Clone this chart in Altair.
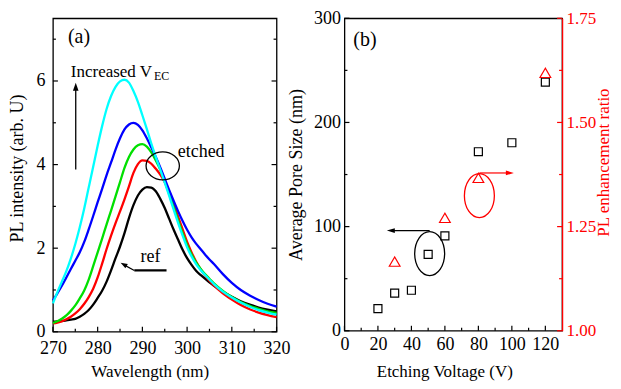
import altair as alt
import pandas as pd

FONT = "Liberation Serif"

# ---------------- panel (a): PL spectra ----------------
wavelength = [270, 271, 272, 273, 274, 275, 276, 277, 278, 279, 280, 281, 282, 283, 284,
              285, 286, 287, 288, 289, 290, 291, 292, 293, 294, 295, 296, 297, 298, 299,
              300, 301, 302, 303, 304, 305, 306, 308, 310, 312, 314, 316, 318, 320]

pl_ref = [0.24, 0.25, 0.26, 0.27, 0.29, 0.31, 0.36, 0.43, 0.52, 0.65, 0.81, 0.98, 1.20, 1.47, 1.76,
          2.04, 2.36, 2.72, 3.03, 3.26, 3.40, 3.46, 3.45, 3.36, 3.18, 2.96, 2.70, 2.44, 2.20, 1.96,
          1.76, 1.60, 1.46, 1.36, 1.27, 1.18, 1.10, 0.96, 0.84, 0.73, 0.65, 0.58, 0.53, 0.49]
pl_red = [0.20, 0.22, 0.25, 0.30, 0.36, 0.44, 0.54, 0.67, 0.83, 1.03, 1.30, 1.63, 1.98, 2.30, 2.60,
          2.88, 3.17, 3.48, 3.80, 4.01, 4.10, 4.09, 4.02, 3.90, 3.76, 3.58, 3.33, 3.05, 2.75, 2.45,
          2.15, 1.90, 1.68, 1.50, 1.35, 1.22, 1.11, 0.92, 0.77, 0.64, 0.54, 0.46, 0.40, 0.35]
pl_green = [0.21, 0.25, 0.31, 0.39, 0.50, 0.63, 0.80, 0.99, 1.25, 1.57, 1.90, 2.23, 2.57, 2.90, 3.24,
            3.58, 3.92, 4.18, 4.36, 4.46, 4.49, 4.43, 4.29, 4.10, 3.88, 3.60, 3.30, 2.98, 2.66, 2.36,
            2.08, 1.85, 1.66, 1.51, 1.38, 1.27, 1.16, 0.98, 0.83, 0.71, 0.62, 0.55, 0.49, 0.45]
pl_blue = [0.75, 0.92, 1.10, 1.30, 1.50, 1.70, 1.90, 2.15, 2.45, 2.77, 3.10, 3.42, 3.75, 4.05, 4.36,
           4.63, 4.84, 4.96, 5.00, 4.95, 4.82, 4.63, 4.41, 4.18, 3.93, 3.66, 3.39, 3.13, 2.88, 2.65,
           2.44, 2.26, 2.11, 1.98, 1.85, 1.73, 1.62, 1.38, 1.17, 1.00, 0.87, 0.76, 0.67, 0.60]
pl_cyan = [0.68, 0.95, 1.20, 1.45, 1.75, 2.10, 2.50, 2.95, 3.45, 3.95, 4.45, 4.92, 5.33, 5.64, 5.86,
           5.99, 6.03, 5.96, 5.76, 5.50, 5.18, 4.85, 4.50, 4.18, 3.88, 3.57, 3.25, 2.92, 2.60, 2.30,
           2.02, 1.80, 1.62, 1.48, 1.36, 1.25, 1.14, 0.96, 0.82, 0.70, 0.60, 0.52, 0.46, 0.41]

series_names = ["ref", "etched 1", "etched 2", "etched 3", "etched 4"]
series_colors = ["#000000", "#FF0000", "#00E000", "#0000FF", "#00FFFF"]
series_values = [pl_ref, pl_red, pl_green, pl_blue, pl_cyan]

# ---------------- panel (b): pore size & PL ratio ----------------
pore_voltage = [20, 30, 40, 50, 60, 80, 100, 120]
pore_size = [21.3, 36.1, 38.9, 73.4, 91.1, 171.9, 180.5, 238.7]
ratio_voltage = [30, 60, 80, 120]
ratio_value = [1.166, 1.271, 1.367, 1.619]

# axis tick values
a_x_major = [270, 280, 290, 300, 310, 320]
a_x_minor = [275, 285, 295, 305, 315]
a_y_major = [0, 2, 4, 6]
a_y_minor = [1, 3, 5, 7]
b_x_major = [0, 20, 40, 60, 80, 100, 120]
b_x_minor = [10, 30, 50, 70, 90, 110]
b_y_major = [0, 100, 200, 300]
b_y_minor = [50, 150, 250]
b_r_major = [1.0, 1.25, 1.5, 1.75]

rows = []
for name, vals in zip(series_names, series_values):
    for w, v in zip(wavelength, vals):
        rows.append({"wl": w, "I": v, "s": name})
df_a = pd.DataFrame(rows)

W_A, H_A = 224, 314
W_B, H_B = 218, 313
MAJ, MIN = 5, 3

xa_axis = alt.Axis(values=a_x_major, title="Wavelength (nm)", labelPadding=8, titlePadding=6,
                   titleFontSize=17, titleX=97)
ya_axis = alt.Axis(values=a_y_major, title="PL intensity (arb. U)", labelPadding=8, titlePadding=9,
                   titleY=150)
X_A = alt.X("wl:Q", scale=alt.Scale(domain=[270, 320], nice=False, zero=False), axis=xa_axis)
Y_A = alt.Y("I:Q", scale=alt.Scale(domain=[0, 7.5], nice=False, zero=False), axis=ya_axis)

lines = alt.Chart(df_a).mark_line(strokeWidth=2.3, interpolate="monotone").encode(
    x=X_A, y=Y_A,
    color=alt.Color("s:N", scale=alt.Scale(domain=series_names, range=series_colors), legend=None),
)


def xticks_a(vals, length):
    return alt.Chart(pd.DataFrame({"wl": vals})).mark_rule(color="black", strokeWidth=1.2).encode(
        x=X_A, y=alt.value(H_A), y2=alt.value(H_A - length))


def yticks_a(vals, length, right=False):
    x0 = W_A if right else 0
    x1 = W_A - length if right else length
    return alt.Chart(pd.DataFrame({"I": vals})).mark_rule(color="black", strokeWidth=1.2).encode(
        y=Y_A, x=alt.value(x0), x2=alt.value(x1))


ELLIPSE_A = "M1,0C1,0.464 0.552,0.84 0,0.84C-0.552,0.84 -1,0.464 -1,0C-1,-0.464 -0.552,-0.84 0,-0.84C0.552,-0.84 1,-0.464 1,0Z"
ELLIPSE_B = "M0.682,0C0.682,0.552 0.377,1 0,1C-0.377,1 -0.682,0.552 -0.682,0C-0.682,-0.552 -0.377,-1 0,-1C0.377,-1 0.682,-0.552 0.682,0Z"
HEAD_UP = "M0,-1L0.7,1L-0.7,1Z"
HEAD_LEFT = "M-1,0L1,-0.6L1,0.6Z"
HEAD_RIGHT = "M1,0L-1,-0.6L-1,0.6Z"

up_line = alt.Chart(pd.DataFrame({"wl": [275.1, 275.1], "I": [3.88, 5.8]})).mark_line(
    color="black", strokeWidth=1.3).encode(x=X_A, y=Y_A)
up_head = alt.Chart(pd.DataFrame({"wl": [275.1], "I": [5.86]})).mark_point(
    shape=HEAD_UP, filled=True, color="black", size=64, opacity=1).encode(x=X_A, y=Y_A)
etched_ell = alt.Chart(pd.DataFrame({"wl": [294.55], "I": [3.97]})).mark_point(
    shape=ELLIPSE_A, filled=False, color="black", size=1115, strokeWidth=1.3, opacity=1).encode(x=X_A, y=Y_A)
ref_line = alt.Chart(pd.DataFrame({"wl": [295.4, 288.2], "I": [1.467, 1.467]})).mark_line(
    color="black", strokeWidth=2.3).encode(x=X_A, y=Y_A)
ref_diag = alt.Chart(pd.DataFrame({"wl": [288.2, 285.9], "I": [1.467, 1.60]})).mark_line(
    color="black", strokeWidth=1.2).encode(x=X_A, y=Y_A)
ref_head = alt.Chart(pd.DataFrame({"wl": [285.8], "I": [1.61]})).mark_point(
    shape=HEAD_UP, filled=True, color="black", size=49, angle=300, opacity=1).encode(x=X_A, y=Y_A)


def text_a(label, wl, inten, size):
    return alt.Chart(pd.DataFrame({"wl": [wl], "I": [inten], "t": [label]})).mark_text(
        font=FONT, fontSize=size, align="left", baseline="alphabetic", color="black").encode(
        x=X_A, y=Y_A, text="t:N")


panel_a = alt.layer(
    lines,
    xticks_a(a_x_major, MAJ), xticks_a(a_x_minor, MIN),
    yticks_a(a_y_major, MAJ), yticks_a(a_y_minor, MIN),
    yticks_a(a_y_major, MAJ, True), yticks_a(a_y_minor, MIN, True),
    up_line, up_head, etched_ell, ref_line, ref_diag, ref_head,
    text_a("(a)", 273.35, 6.9, 20),
    text_a("Increased V", 274.0, 6.1, 17),
    text_a("EC", 292.6, 6.03, 12),
    text_a("etched", 297.9, 4.17, 18),
    text_a("ref", 289.6, 1.68, 18),
).properties(width=W_A, height=H_A)

# ---------------- panel (b) ----------------
xb_axis = alt.Axis(values=b_x_major, title="Etching Voltage (V)", labelPadding=5, titlePadding=10,
                   titleFontSize=17, titleX=100)
yb_axis = alt.Axis(values=b_y_major, title="Average Pore Size (nm)", labelPadding=4, titlePadding=8)
X_B = alt.X("v:Q", scale=alt.Scale(domain=[0, 130], nice=False, zero=False), axis=xb_axis)
Y_B = alt.Y("p:Q", scale=alt.Scale(domain=[0, 300], nice=False, zero=False), axis=yb_axis)
Y_R = alt.Y("r:Q", scale=alt.Scale(domain=[1.0, 1.75], nice=False, zero=False),
            axis=alt.Axis(orient="right", values=b_r_major, format=".2f", title="PL enhancement ratio",
                          labelColor="red", titleColor="red", domain=True, domainColor="red",
                          domainWidth=1.3, labelPadding=4, titlePadding=0, titleAngle=270,
                          titleBaseline="top", labelFontSize=17, titleFontSize=17, titleY=144))

squares = alt.Chart(pd.DataFrame({"v": pore_voltage, "p": pore_size})).mark_point(
    shape="square", size=64, filled=False, color="black", strokeWidth=1.2, opacity=1).encode(x=X_B, y=Y_B)
triangles = alt.Chart(pd.DataFrame({"v": ratio_voltage, "r": ratio_value})).mark_point(
    shape="triangle-up", size=115, filled=False, color="red", strokeWidth=1.2, opacity=1).encode(x=X_B, y=Y_R)


def xticks_b(vals, length):
    return alt.Chart(pd.DataFrame({"v": vals})).mark_rule(color="black", strokeWidth=1.2).encode(
        x=X_B, y=alt.value(H_B), y2=alt.value(H_B - length))


def yticks_b(vals, length, right=False):
    x0 = W_B if right else 0
    x1 = W_B - length if right else length
    return alt.Chart(pd.DataFrame({"p": vals})).mark_rule(
        color="red" if right else "black", strokeWidth=1.2).encode(
        y=Y_B, x=alt.value(x0), x2=alt.value(x1))


def ann_b(v, p, shape, size, color, filled, sw=1.3):
    return alt.Chart(pd.DataFrame({"v": [v], "p": [p]})).mark_point(
        shape=shape, size=size, filled=filled, color=color, strokeWidth=sw, opacity=1).encode(x=X_B, y=Y_B)


blk_line = alt.Chart(pd.DataFrame({"v": [50.9, 28.5], "p": [96.2, 96.2]})).mark_line(
    color="black", strokeWidth=1.2).encode(x=X_B, y=Y_B)
red_line = alt.Chart(pd.DataFrame({"v": [80.6, 98.0], "p": [151.5, 151.5]})).mark_line(
    color="red", strokeWidth=1.2).encode(x=X_B, y=Y_B)
text_b = alt.Chart(pd.DataFrame({"v": [5.3], "p": [273.5], "t": ["(b)"]})).mark_text(
    font=FONT, fontSize=20, align="left", baseline="alphabetic", color="black").encode(
    x=X_B, y=Y_B, text="t:N")

left_b = alt.layer(
    squares,
    xticks_b(b_x_major, MAJ), xticks_b(b_x_minor, MIN),
    yticks_b(b_y_major, MAJ), yticks_b(b_y_minor, MIN),
    yticks_b(b_y_major, MAJ, True), yticks_b(b_y_minor, MIN, True),
    ann_b(50.9, 74.1, ELLIPSE_B, 1936, "black", False),
    ann_b(80.6, 129.7, ELLIPSE_B, 1936, "red", False),
    blk_line, ann_b(27.7, 96.2, HEAD_LEFT, 64, "black", True),
    red_line, ann_b(98.8, 151.5, HEAD_RIGHT, 64, "red", True),
    text_b,
)
right_b = alt.layer(triangles)

panel_b = alt.layer(left_b, right_b).resolve_scale(y="independent").properties(width=W_B, height=H_B)

chart = alt.hconcat(panel_a, panel_b, spacing=68, bounds="flush").properties(
    padding={"left": 0, "top": 0, "right": 0, "bottom": 0}
).configure_view(
    stroke="black", strokeWidth=1.3
).configure_axis(
    labelFont=FONT, titleFont=FONT, labelFontSize=18, titleFontSize=18, titleFontWeight="normal",
    labelColor="black", titleColor="black", grid=False, ticks=False, tickSize=0, domain=False,
    labelFlush=False
).configure_text(font=FONT)

chart.save("out.html", embed_options={"renderer": "svg", "actions": False})
